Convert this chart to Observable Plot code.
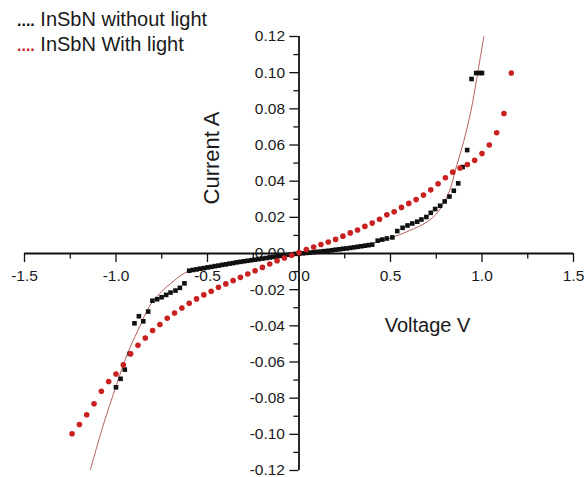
<!DOCTYPE html>
<html><head><meta charset="utf-8">
<script src="https://cdn.jsdelivr.net/npm/d3@7"></script>
<script src="https://cdn.jsdelivr.net/npm/@observablehq/plot@0.6"></script>
<style>
html,body{margin:0;padding:0;background:#fff;}
#wrap{position:relative;width:584px;height:477px;font-family:"Liberation Sans",Arial,sans-serif;}
.leg{position:absolute;left:17px;font-size:20px;color:#1a1a1a;white-space:nowrap;line-height:1;}
.leg .d{font-size:16px;font-weight:bold;}
</style></head><body>
<div id="wrap">
  <div class="leg" style="top:9px"><span class="d" style="color:#111">....</span> InSbN without light</div>
  <div class="leg" style="top:34px"><span class="d" style="color:#c8211f">....</span> InSbN With light</div>
</div>
<script>
// Series: InSbN with light (red circles)
const redX = [-1.24,-1.20,-1.16,-1.12,-1.08,-1.04,-1.00,-0.96,-0.92,-0.88,-0.84,-0.80,-0.76,-0.72,-0.68,-0.64,-0.60,-0.56,-0.52,-0.48,-0.44,-0.40,-0.36,-0.32,-0.28,-0.24,-0.20,-0.16,-0.12,-0.08,-0.04,0.00,0.04,0.08,0.12,0.16,0.20,0.24,0.28,0.32,0.36,0.40,0.44,0.48,0.52,0.56,0.60,0.64,0.68,0.72,0.76,0.80,0.84,0.88,0.92,0.96,1.00,1.04,1.08,1.12,1.16];
const redY = [-0.0997,-0.0946,-0.0892,-0.0831,-0.0762,-0.0708,-0.0666,-0.0616,-0.0555,-0.0508,-0.0467,-0.0426,-0.0393,-0.0358,-0.0329,-0.0301,-0.0275,-0.0251,-0.0229,-0.0209,-0.0187,-0.0168,-0.0150,-0.0132,-0.0113,-0.0095,-0.0077,-0.0058,-0.0040,-0.0025,-0.0010,0.0005,0.0022,0.0036,0.0050,0.0064,0.0078,0.0096,0.0114,0.0130,0.0150,0.0168,0.0189,0.0214,0.0231,0.0255,0.0277,0.0298,0.0323,0.0352,0.0386,0.0419,0.0450,0.0473,0.0492,0.0515,0.0553,0.0600,0.0668,0.0774,0.0998];

// Series: InSbN without light (black squares)
const blackX = [-1.00,-0.975,-0.952,-0.925,-0.899,-0.875,-0.851,-0.824,-0.801,-0.775,-0.751,-0.726,-0.702,-0.675,-0.651,-0.626,
  -0.60,-0.58,-0.56,-0.54,-0.52,-0.50,-0.48,-0.46,-0.44,-0.42,-0.40,-0.38,-0.36,-0.34,-0.32,-0.30,-0.28,-0.26,-0.24,-0.22,-0.20,-0.18,-0.16,-0.14,-0.12,-0.10,-0.08,-0.06,-0.04,-0.02,0.00,
  0.02,0.04,0.06,0.08,0.10,0.12,0.14,0.16,0.18,0.20,0.22,0.24,0.26,0.28,0.30,0.32,0.34,0.36,0.38,0.40,
  0.43,0.455,0.48,0.51,0.537,0.566,0.593,0.619,0.646,0.669,0.696,0.72,0.744,0.771,0.796,0.822,0.846,0.870,0.894,0.919,0.943,0.968,0.988,1.000];
const blackY = [-0.0740,-0.0693,-0.0642,-0.0555,-0.0386,-0.0347,-0.0375,-0.0321,-0.0261,-0.0253,-0.0242,-0.0229,-0.0216,-0.0205,-0.0190,-0.0165,
  -0.0095,-0.0091,-0.0088,-0.0084,-0.0081,-0.0077,-0.0074,-0.0070,-0.0067,-0.0063,-0.0060,-0.0056,-0.0053,-0.0049,-0.0046,-0.0043,-0.0040,-0.0037,-0.0034,-0.0031,-0.0028,-0.0025,-0.0022,-0.0019,-0.0016,-0.0013,-0.0010,-0.0007,-0.0005,-0.0002,0.0000,
  0.0001,0.0003,0.0005,0.0007,0.0009,0.0011,0.0013,0.0015,0.0018,0.0021,0.0023,0.0026,0.0028,0.0031,0.0034,0.0037,0.0040,0.0043,0.0046,0.0049,
  0.0071,0.0077,0.0083,0.0089,0.0124,0.0142,0.0155,0.0166,0.0176,0.0188,0.0202,0.0225,0.0246,0.0264,0.0288,0.0315,0.0347,0.0388,0.0478,0.0572,0.0965,0.0998,0.0998,0.0998];

// Fit curve (thin line)
const fitX = [-1.14,-1.07,-1.00,-0.94,-0.88,-0.81,-0.75,-0.70,-0.62,-0.55,-0.40,-0.20,0.00,0.20,0.40,0.50,0.60,0.70,0.76,0.82,0.86,0.90,0.94,0.97,1.01];
const fitY = [-0.1196,-0.0950,-0.0735,-0.0560,-0.0425,-0.0280,-0.0210,-0.0165,-0.0105,-0.0085,-0.0062,-0.0030,0.0000,0.0020,0.0055,0.0085,0.0125,0.0175,0.0230,0.0340,0.0480,0.0620,0.0790,0.0960,0.1200];

// Axes ticks and labels
const xMajor = [-1.5,-1.0,-0.5,0.0,0.5,1.0,1.5];
const xMinor = [-1.25,-0.75,-0.25,0.25,0.75,1.25];
const xLabels = ["-1.5","-1.0","-0.5","0.0","0.5","1.0","1.5"];
const yMajor = [-0.12,-0.10,-0.08,-0.06,-0.04,-0.02,0.00,0.02,0.04,0.06,0.08,0.10,0.12];
const yMinor = [-0.11,-0.09,-0.07,-0.05,-0.03,-0.01,0.01,0.03,0.05,0.07,0.09,0.11];
const yLabels = ["-0.12","-0.10","-0.08","-0.06","-0.04","-0.02","0.00","0.02","0.04","0.06","0.08","0.10","0.12"];
const xTitle = "Voltage V";
const yTitle = "Current A";

const red = redX.map((x, i) => ({x, y: redY[i]}));
const black = blackX.map((x, i) => ({x, y: blackY[i]}));
const fit = fitX.map((x, i) => ({x, y: fitY[i]}));

const font = '"Liberation Sans", Arial, sans-serif';
const plot = Plot.plot({
  width: 584, height: 477,
  marginLeft: 24, marginRight: 11, marginTop: 36, marginBottom: 7,
  x: {domain: [-1.5, 1.5], axis: null},
  y: {domain: [-0.12, 0.12], axis: null},
  style: {fontFamily: font, background: "transparent", overflow: "visible"},
  marks: [
    Plot.ruleY([0], {x1: -1.5, x2: 1.5, stroke: "#111", strokeWidth: 1.8}),
    Plot.ruleX([0], {y1: -0.12, y2: 0.12, stroke: "#111", strokeWidth: 1.8}),
    Plot.ruleX(xMajor, {x: d => d, y1: 0, y2: -0.005, stroke: "#111", strokeWidth: 1.3}),
    Plot.ruleX(xMinor, {x: d => d, y1: 0, y2: -0.0031, stroke: "#111", strokeWidth: 1.3}),
    Plot.ruleY(yMajor, {y: d => d, x1: 0, x2: -0.05, stroke: "#111", strokeWidth: 1.3}),
    Plot.ruleY(yMinor, {y: d => d, x1: 0, x2: -0.028, stroke: "#111", strokeWidth: 1.3}),
    Plot.text(xMajor, {x: d => d, y: 0, text: (d, i) => xLabels[i], dy: 23, fontSize: 15.5, fill: "#1a1a1a"}),
    Plot.text(yMajor, {x: 0, y: d => d, text: (d, i) => yLabels[i], textAnchor: "end", dx: -14, fontSize: 15.5, fill: "#1a1a1a"}),
    Plot.text([xTitle], {frameAnchor: "top-left", textAnchor: "middle", lineAnchor: "middle", dx: 403, dy: 289, text: d => d, fontSize: 20, fill: "#1a1a1a"}),
    Plot.text([yTitle], {frameAnchor: "top-left", textAnchor: "middle", lineAnchor: "middle", dx: 187.5, dy: 121.5, text: d => d, rotate: -90, fontSize: 22, fill: "#1a1a1a"}),
    Plot.line(fit, {x: "x", y: "y", stroke: "#b5625e", strokeWidth: 1, curve: "catmull-rom"}),
    Plot.dot(black, {x: "x", y: "y", symbol: "square", r: 2.6, fill: "#111", stroke: "none"}),
    Plot.dot(red, {x: "x", y: "y", r: 2.8, fill: "#c8211f", stroke: "none"})
  ]
});
plot.style.position = "absolute";
plot.style.left = "0px";
plot.style.top = "0px";
const wrap = document.getElementById("wrap");
wrap.insertBefore(plot, wrap.firstChild);
</script>
</body></html>
